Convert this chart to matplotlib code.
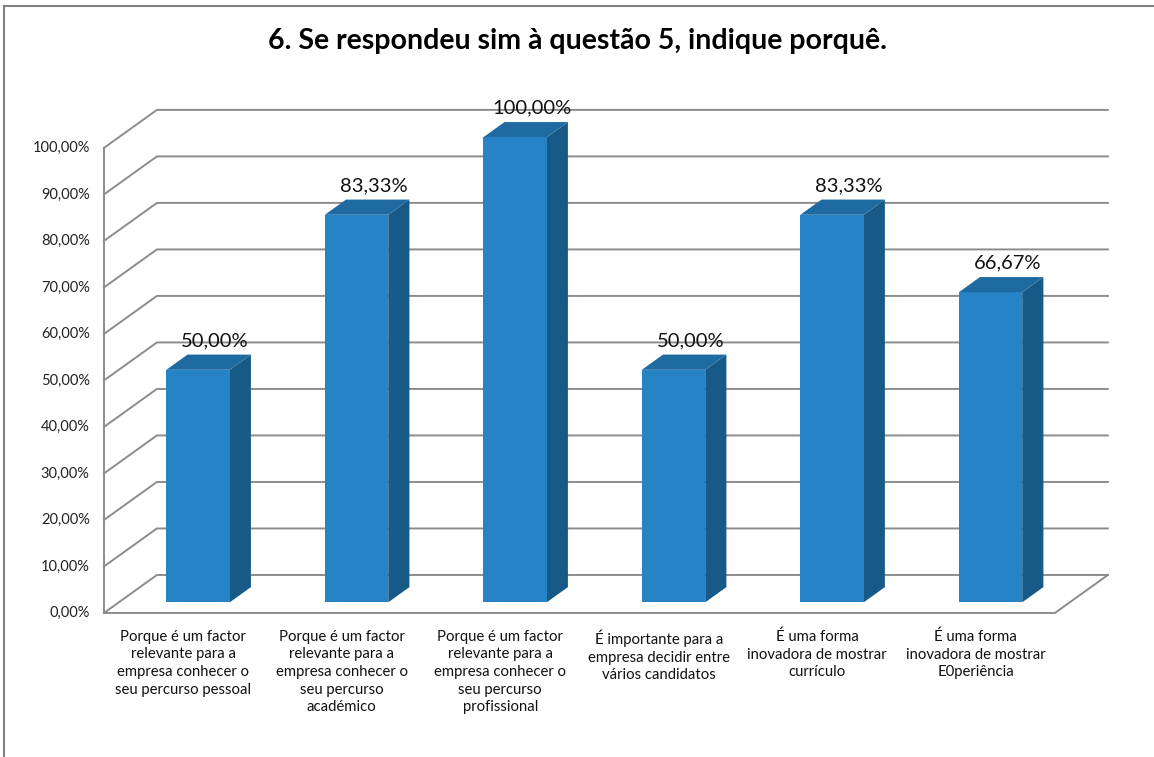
import matplotlib.pyplot as plt
from matplotlib.patches import Polygon

plt.rcParams['font.family'] = ['Lato', 'DejaVu Sans']

# data
categories = [
    "Porque é um factor\nrelevante para a\nempresa conhecer o\nseu percurso pessoal",
    "Porque é um factor\nrelevante para a\nempresa conhecer o\nseu percurso\nacadémico",
    "Porque é um factor\nrelevante para a\nempresa conhecer o\nseu percurso\nprofissional",
    "É importante para a\nempresa decidir entre\nvários candidatos",
    "É uma forma\ninovadora de mostrar\ncurrículo",
    "É uma forma\ninovadora de mostrar\nE0periência",
]
values = [50.00, 83.33, 100.00, 50.00, 83.33, 66.67]
yticks = [0, 10, 20, 30, 40, 50, 60, 70, 80, 90, 100]
title = "6. Se respondeu sim à questão 5, indique porquê."

# fake 3d projection: depth d in [0, 1] shifts points right and up
DX = 0.334   # category units
DY = 8.17    # percent units
D_FRONT, D_BACK = 0.28, 0.68
BAR_W = 0.40

FRONT = "#2683C6"
SIDE = "#175A88"
TOP = "#1F6AA1"
GRID = "#8C8C8C"


def proj(x, y, d):
    return (x + d * DX, y + d * DY)


fig = plt.figure(figsize=(11.54, 7.57), dpi=100)
ax = fig.add_axes([0, 0, 1, 1])
ax.set_xlim(-0.656, 6.625)
ax.set_ylim(-30.97, 131.8)
ax.axis("off")

n = len(values)

# walls and gridlines
for v in yticks:
    x0, y0 = proj(0, v, 0)
    x1, y1 = proj(0, v, 1)
    x2, y2 = proj(n, v, 1)
    ax.plot([x0, x1, x2], [y0, y1, y2], color=GRID, lw=1.4, zorder=1)
    ax.text(x0 - 0.09, y0, f"{v:.2f}%".replace(".", ","), ha="right", va="center",
            fontsize=10.5, color="#222222")
ax.plot([0, 0], [0, 100], color=GRID, lw=1.4, zorder=1)
# floor front and right edges
fx, fy = zip(proj(0, 0, 0), proj(n, 0, 0), proj(n, 0, 1))
ax.plot(fx, fy, color=GRID, lw=1.4, zorder=1)

# bars
for i, v in enumerate(values):
    xl = i + 0.5 - BAR_W / 2
    xr = i + 0.5 + BAR_W / 2
    front = [proj(xl, 0, D_FRONT), proj(xr, 0, D_FRONT), proj(xr, v, D_FRONT), proj(xl, v, D_FRONT)]
    side = [proj(xr, 0, D_FRONT), proj(xr, 0, D_BACK), proj(xr, v, D_BACK), proj(xr, v, D_FRONT)]
    top = [proj(xl, v, D_FRONT), proj(xr, v, D_FRONT), proj(xr, v, D_BACK), proj(xl, v, D_BACK)]
    ax.add_patch(Polygon(side, closed=True, facecolor=SIDE, edgecolor="none", zorder=3))
    ax.add_patch(Polygon(front, closed=True, facecolor=FRONT, edgecolor="none", zorder=3))
    ax.add_patch(Polygon(top, closed=True, facecolor=TOP, edgecolor="none", zorder=3))

    lx, ly = proj(i + 0.5, v, 0.6)
    ax.text(lx, v + D_BACK * DY + 1.2, f"{v:.2f}%".replace(".", ","), ha="center",
            va="bottom", fontsize=14.5, color="#111111", zorder=4)

    ax.text(i + 0.5, -3.6, categories[i], ha="center", va="top", fontsize=10.7,
            color="#111111", linespacing=1.33)

fig.text(0.5, 0.946, title, ha="center", va="center", fontsize=20.5,
         fontweight="bold", color="#000000")

# chart frame (top and left edges visible in the reference)
fig.add_artist(plt.Line2D([4 / 1154, 4 / 1154], [0, 1 - 6 / 757], color="#808080", lw=1.5,
                          transform=fig.transFigure))
fig.add_artist(plt.Line2D([4 / 1154, 1], [1 - 6 / 757, 1 - 6 / 757], color="#808080", lw=1.5,
                          transform=fig.transFigure))

fig.savefig("out.png", dpi=100, facecolor="white")
